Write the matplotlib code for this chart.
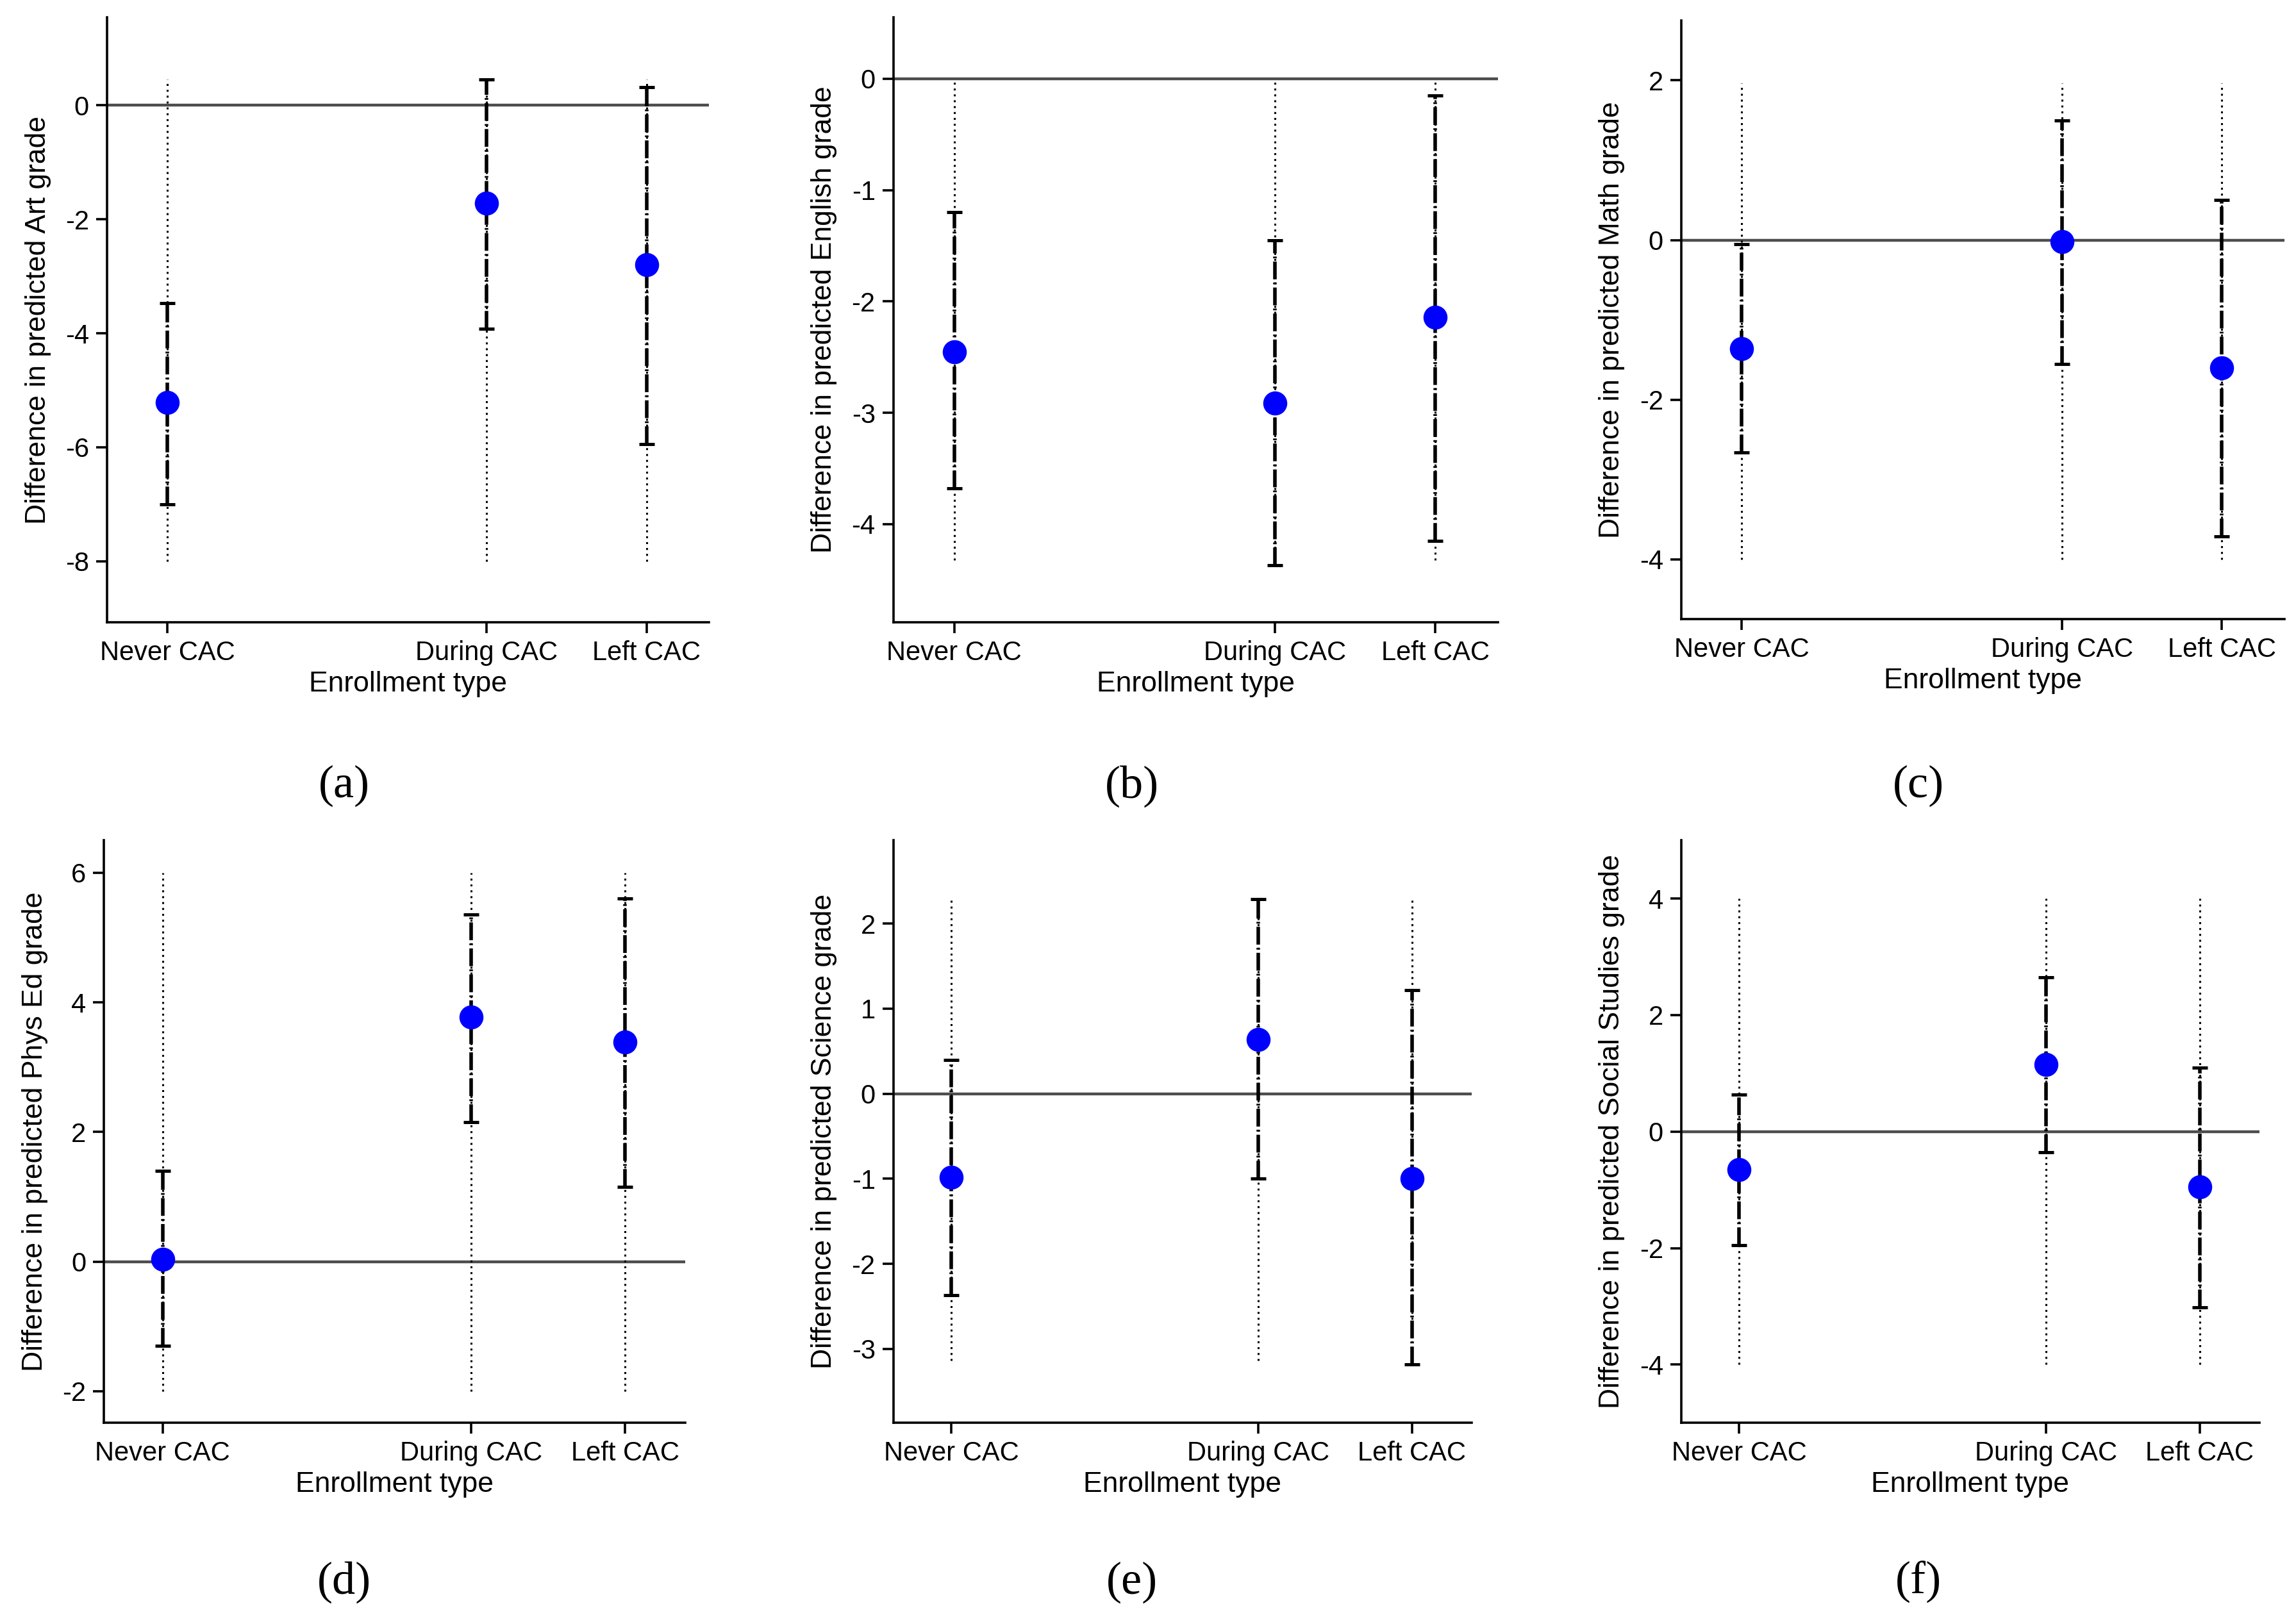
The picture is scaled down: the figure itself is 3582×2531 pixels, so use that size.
import matplotlib
matplotlib.use("Agg")
import matplotlib.pyplot as plt

plt.rcParams['font.family'] = ['Liberation Sans', 'DejaVu Sans']
plt.rcParams['axes.unicode_minus'] = False

# enrollment groups, x positions follow the original spacing
groups = ["Never CAC", "During CAC", "Left CAC"]
group_x = [0, 2, 3]

subjects = ["Art", "English", "Math", "Phys Ed", "Science", "Social Studies"]
captions = ["(a)", "(b)", "(c)", "(d)", "(e)", "(f)"]

# point estimates
est = [
    [-5.22, -1.72, -2.80],
    [-2.45, -2.91, -2.14],
    [-1.36, -0.02, -1.60],
    [0.03, 3.77, 3.39],
    [-0.98, 0.64, -1.00],
    [-0.65, 1.15, -0.95],
]
# confidence interval ends
ci_lo = [
    [-7.00, -3.92, -5.95],
    [-3.68, -4.37, -4.15],
    [-2.66, -1.55, -3.71],
    [-1.30, 2.15, 1.15],
    [-2.37, -1.00, -3.18],
    [-1.95, -0.35, -3.02],
]
ci_hi = [
    [-3.47, 0.45, 0.32],
    [-1.20, -1.45, -0.15],
    [-0.05, 1.50, 0.50],
    [1.40, 5.35, 5.60],
    [0.40, 2.29, 1.22],
    [0.63, 2.65, 1.10],
]
# dotted reference range (same for every group in a panel)
range_lo = [-8.0, -4.32, -4.0, -2.0, -3.14, -4.0]
range_hi = [0.45, 0.0, 1.96, 6.0, 2.29, 4.0]

ylims = [(-9.07, 1.54), (-4.88, 0.55), (-4.75, 2.75),
         (-2.49, 6.5), (-3.87, 2.98), (-5.0, 5.0)]
yticks = [[-8, -6, -4, -2, 0], [-4, -3, -2, -1, 0], [-4, -2, 0, 2],
          [-2, 0, 2, 4, 6], [-3, -2, -1, 0, 1, 2], [-4, -2, 0, 2, 4]]

W, H = 1568.0, 1108.0
boxes = [
    (73, 12, 484, 425), (610, 12, 1023, 425), (1148, 14, 1560, 423),
    (71, 574, 468, 972), (610, 574, 1005, 972), (1148, 574, 1543, 972),
]
cap_pos = [(235, 537), (773, 537), (1310, 537),
           (235, 1081), (773, 1081), (1310, 1081)]

fig = plt.figure(figsize=(17.91, 12.655), dpi=200)

for i in range(6):
    x0, y0, x1, y1 = boxes[i]
    ax = fig.add_axes([x0 / W, 1 - y1 / H, (x1 - x0) / W, (y1 - y0) / H])

    ax.axhline(0, color="#4d4d4d", lw=1.6, zorder=1)
    ax.vlines(group_x, range_lo[i], range_hi[i], colors="black",
              linestyles=(0, (1, 2)), lw=1.1, zorder=2)
    lo_err = [e - l for e, l in zip(est[i], ci_lo[i])]
    hi_err = [h - e for e, h in zip(est[i], ci_hi[i])]
    eb = ax.errorbar(group_x, est[i], yerr=[lo_err, hi_err], fmt="none",
                     ecolor="black", elinewidth=2.0, capsize=4.2, capthick=1.8,
                     zorder=3)
    eb[2][0].set_linestyle((0, (5, 0.9, 0.5, 0.9)))
    ax.plot(group_x, est[i], "o", color="#0000ff", ms=12.5, zorder=4)

    ax.set_xlim(-0.38, 3.39)
    ax.set_ylim(*ylims[i])
    ax.set_yticks(yticks[i])
    ax.set_xticks(group_x)
    ax.set_xticklabels(groups)
    ax.spines["top"].set_visible(False)
    ax.spines["right"].set_visible(False)
    for s in ("left", "bottom"):
        ax.spines[s].set_linewidth(1.3)
    ax.tick_params(axis="both", direction="out", length=6, width=1.3,
                   labelsize=15, pad=4)
    ax.set_xlabel("Enrollment type", fontsize=16, labelpad=3)
    ax.set_ylabel(f"Difference in predicted {subjects[i]} grade",
                  fontsize=16, labelpad=8)

    cx, cy = cap_pos[i]
    fig.text(cx / W, 1 - cy / H, captions[i], ha="center", va="center",
             fontsize=26, family=["Liberation Serif", "DejaVu Serif"])

fig.savefig("out.png", dpi=200, facecolor="white")
